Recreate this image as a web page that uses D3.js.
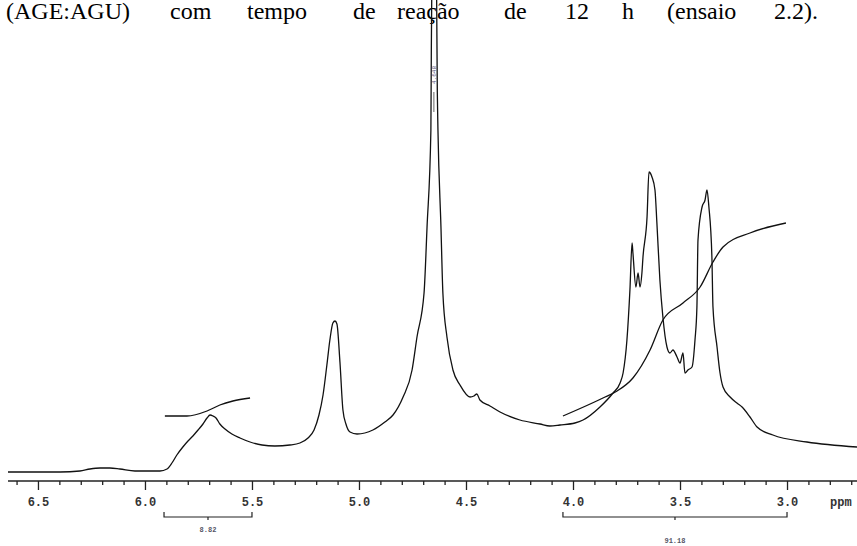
<!DOCTYPE html>
<html><head><meta charset="utf-8">
<script src="https://cdn.jsdelivr.net/npm/d3@7"></script>
<style>body{margin:0;background:#fff}svg{display:block}</style>
</head><body>
<svg id="chart" width="857" height="546"></svg>
<script>
// ---- data ----
const titleWords = ["(AGE:AGU)","com","tempo","de","reação","de","12","h","(ensaio","2.2)."];
const titleX = [6,170,247,353,397,504,565,622,667,774];

const spectrumPpm = [6.640,6.491,6.397,6.304,6.257,6.210,6.164,6.117,6.047,5.977,5.930,5.897,5.874,5.851,5.823,5.799,5.776,5.752,5.729,5.710,5.696,5.682,5.668,5.650,5.626,5.594,5.556,5.509,5.453,5.393,5.323,5.276,5.238,5.210,5.187,5.168,5.150,5.136,5.122,5.112,5.103,5.089,5.075,5.061,5.042,5.009,4.935,4.879,4.841,4.794,4.752,4.729,4.696,4.682,4.664,4.662,4.657,4.648,4.640,4.634,4.631,4.617,4.608,4.589,4.561,4.528,4.481,4.463,4.449,4.435,4.388,4.341,4.248,4.154,4.108,4.061,3.991,3.953,3.874,3.813,3.780,3.766,3.748,3.734,3.724,3.720,3.706,3.696,3.687,3.678,3.673,3.654,3.645,3.631,3.617,3.608,3.594,3.580,3.561,3.547,3.533,3.514,3.500,3.486,3.477,3.463,3.444,3.430,3.421,3.416,3.397,3.383,3.374,3.365,3.351,3.346,3.327,3.313,3.299,3.266,3.234,3.210,3.173,3.140,3.066,2.907,2.673];
const spectrumIntensity = [0,0,0,1,3,4,4,3,1,1,1,3,9,17,25,31,36,42,48,54,57,56,54,48,43,38,34,30,27,26,27,29,34,42,57,77,107,132,149,151,148,110,62,48,40,38,42,50,57,75,102,135,179,245,342,422,560,650,560,380,342,245,179,135,102,87,75,76,78,72,66,60,52,48,46,47,49,52,65,79,89,99,132,182,229,219,185,199,185,199,215,255,300,295,282,249,192,155,125,119,122,115,109,119,99,102,105,132,165,232,265,272,282,265,215,165,125,99,85,75,69,65,55,45,37,30,25];

const integral1Ppm = [5.907,5.804,5.710,5.650,5.589,5.509];
const integral1Val = [56,56,61,67,71,74];
const integral2Ppm = [4.047,3.850,3.794,3.720,3.640,3.580,3.486,3.406,3.346,3.299,3.173,3.005];
const integral2Val = [56,75,81,94,122,152,169,185,210,225,239,249];

const integrationRanges = [[5.911,5.500],[4.047,3.000]];
const integrationLabels = ["8.82","91.18"];

const majorTicks = [6.5,6.0,5.5,5.0,4.5,4.0,3.5,3.0];
const majorTickLabels = ["6.5","6.0","5.5","5.0","4.5","4.0","3.5","3.0"];
const minorTicks = [6.6,6.4,6.3,6.2,6.1,5.9,5.8,5.7,5.6,5.4,5.3,5.2,5.1,4.9,4.8,4.7,4.6,4.4,4.3,4.2,4.1,3.9,3.8,3.7,3.6,3.4,3.3,3.2,3.1,2.9,2.8,2.7];
const peakLabel = "4.648";
const peakPpm = 4.648;

// ---- chart ----
const svg = d3.select("#chart");
const x = d3.scaleLinear().domain([6.64, 2.673]).range([8, 857]);
const y = d3.scaleLinear().domain([0, 472]).range([472, 0]);
const axisY = 481;

// title
svg.append("g").selectAll("text").data(titleWords).join("text")
  .attr("x", (d,i) => titleX[i]).attr("y", 19)
  .attr("font-family", "'Liberation Serif','Times New Roman',serif")
  .attr("font-size", 24).attr("fill", "#000").text(d => d);

// spectrum
const spec = spectrumPpm.map((p,i) => [p, spectrumIntensity[i]]);
svg.append("path").datum(spec)
  .attr("fill","none").attr("stroke","#111").attr("stroke-width",1.3)
  .attr("d", d3.line().x(d => x(d[0])).y(d => y(d[1])).curve(d3.curveMonotoneX));

// integrals
[[integral1Ppm, integral1Val],[integral2Ppm, integral2Val]].forEach(([ps, vs]) => {
  svg.append("path").datum(ps.map((p,i) => [p, vs[i]]))
    .attr("fill","none").attr("stroke","#111").attr("stroke-width",1.3)
    .attr("d", d3.line().x(d => x(d[0])).y(d => y(d[1])).curve(d3.curveMonotoneX));
});

// peak label
const px = x(peakPpm);
svg.append("line").attr("x1", px - 0.5).attr("x2", px - 0.5).attr("y1", 92).attr("y2", 112)
  .attr("stroke", "#999").attr("stroke-width", 1.5);
svg.append("text").attr("transform", `translate(${px + 2},${75}) rotate(-90)`)
  .attr("text-anchor","middle").attr("font-family","'Liberation Mono',monospace")
  .attr("font-size", 6).attr("fill", "#557").text(peakLabel);

// axis
const gAxis = svg.append("g").attr("transform", `translate(0,${axisY})`);
gAxis.append("line").attr("x1", 8).attr("x2", 857).attr("stroke","#222").attr("stroke-width",1.3);
const minorAxis = d3.axisBottom(x).tickValues(minorTicks).tickSize(4).tickFormat("");
const majorAxis = d3.axisBottom(x).tickValues(majorTicks).tickSize(9)
  .tickFormat((d,i) => majorTickLabels[i]);
const gMinor = svg.append("g").attr("transform", `translate(0,${axisY})`).call(minorAxis);
const gMajor = svg.append("g").attr("transform", `translate(0,${axisY})`).call(majorAxis);
[gMinor, gMajor].forEach(g => {
  g.select(".domain").remove();
  g.selectAll(".tick line").attr("stroke","#222").attr("stroke-width",1.3);
});
gMajor.selectAll(".tick text").attr("y", 25).attr("dy", 0)
  .attr("font-family","'Liberation Mono','Courier New',monospace")
  .attr("font-size", 12).attr("font-weight","bold").attr("fill","#333");
svg.append("text").attr("x", 830).attr("y", axisY + 25)
  .attr("font-family","'Liberation Mono','Courier New',monospace")
  .attr("font-size", 12).attr("font-weight","bold").attr("fill","#333").text("ppm");

// integration brackets
const bracketY = 517;
const labelY = [532, 543];
integrationRanges.forEach((r, i) => {
  const x1 = x(r[0]), x2 = x(r[1]), xm = (x1 + x2) / 2;
  const g = svg.append("g").attr("stroke","#222").attr("stroke-width",1.2).attr("fill","none");
  g.append("path").attr("d", `M${x1},${bracketY-5}V${bracketY}H${x2}V${bracketY-5}`);
  g.append("line").attr("x1", xm).attr("x2", xm).attr("y1", bracketY).attr("y2", bracketY + 3);
  svg.append("text").attr("x", xm).attr("y", labelY[i]).attr("text-anchor","middle")
    .attr("font-family","'Liberation Mono','Courier New',monospace")
    .attr("font-size", 7).attr("font-weight","bold").attr("fill","#556").text(integrationLabels[i]);
});
</script>
</body></html>
